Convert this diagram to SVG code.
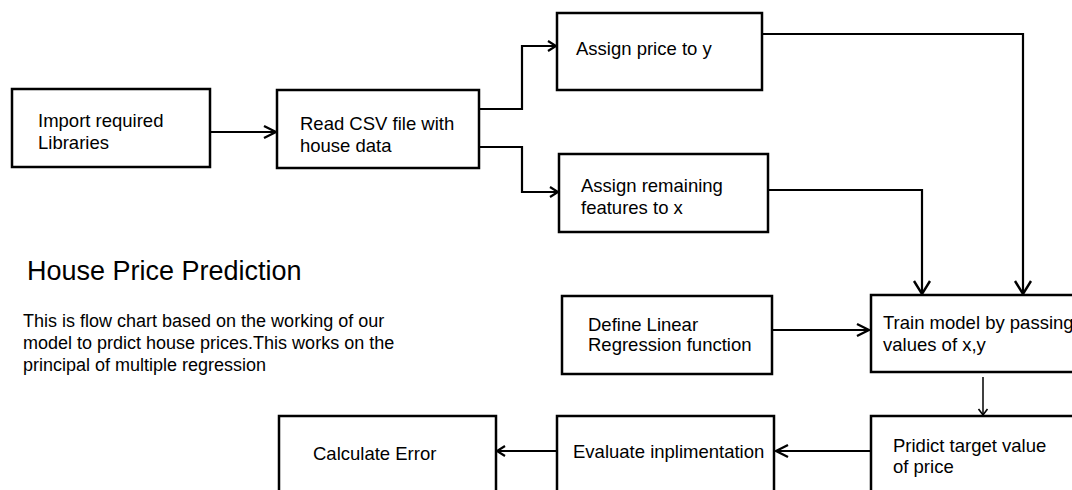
<svg xmlns="http://www.w3.org/2000/svg" width="1072" height="490" viewBox="0 0 1072 490">
  <style>
    .box { fill: #ffffff; stroke: #000000; stroke-width: 2.5; }
    .lbl { font-family: "Liberation Sans", Arial, Helvetica, sans-serif; font-size: 18.5px; fill: #000000; }
    .title { font-family: "Liberation Sans", Arial, Helvetica, sans-serif; font-size: 27px; fill: #000000; }
    .para { font-family: "Liberation Sans", Arial, Helvetica, sans-serif; font-size: 18px; fill: #000000; }
    .wire { fill: none; stroke: #000000; stroke-width: 2.2; }
    .thin { fill: none; stroke: #000000; stroke-width: 1.5; }
  </style>
  <defs>
    <marker id="head" markerUnits="userSpaceOnUse" markerWidth="16" markerHeight="16" viewBox="-14 -8 16 16" refX="0" refY="0" orient="auto">
      <path d="M-12,-6 L0,0 L-12,6" fill="none" stroke="#000" stroke-width="2.4"/>
    </marker>
    <marker id="headBig" markerUnits="userSpaceOnUse" markerWidth="18" markerHeight="20" viewBox="-15 -10 17 20" refX="0" refY="0" orient="auto">
      <path d="M-13,-8 L0,0 L-13,8" fill="none" stroke="#000" stroke-width="2.4"/>
    </marker>
    <marker id="headSmall" markerUnits="userSpaceOnUse" markerWidth="12" markerHeight="14" viewBox="-10 -7 12 14" refX="0" refY="0" orient="auto">
      <path d="M-8,-5 L0,0 L-8,5" fill="none" stroke="#000" stroke-width="2.2"/>
    </marker>
    <marker id="headTiny" markerUnits="userSpaceOnUse" markerWidth="10" markerHeight="12" viewBox="-8 -6 10 12" refX="0" refY="0" orient="auto">
      <path d="M-6,-4.5 L0,0 L-6,4.5" fill="none" stroke="#000" stroke-width="1.6"/>
    </marker>
  </defs>

  <rect width="1072" height="490" fill="#ffffff"/>

  <!-- caption -->
  <g id="caption">
    <text class="title" x="27" y="280">House Price Prediction</text>
    <text class="para" x="23" y="327">This is flow chart based on the working of our</text>
    <text class="para" x="23" y="349">model to prdict house prices.This works on the</text>
    <text class="para" x="23" y="371">principal of multiple regression</text>
  </g>

  <!-- connectors -->
  <g id="connectors">
    <path class="wire" d="M210,132 L276,132" marker-end="url(#head)"/>
    <path class="wire" d="M479,109 L522,109 L522,46 L556,46" marker-end="url(#headSmall)"/>
    <path class="wire" d="M479,147 L522,147 L522,192 L558,192" marker-end="url(#headSmall)"/>
    <path class="wire" d="M762,34 L1023,34 L1023,294" marker-end="url(#headBig)"/>
    <path class="wire" d="M768,190 L922,190 L922,294" marker-end="url(#headBig)"/>
    <path class="wire" d="M772,330 L869,330" marker-end="url(#head)"/>
    <path class="thin" d="M983,377 L983,415" marker-end="url(#headTiny)"/>
    <path class="wire" d="M870,451 L776,451" marker-end="url(#head)"/>
    <path class="wire" d="M557,451 L497,451" marker-end="url(#headSmall)"/>
  </g>

  <g id="import">
    <rect class="box" x="12" y="89" width="198" height="78"/>
    <text class="lbl" x="38" y="127">Import required</text>
    <text class="lbl" x="38" y="149">Libraries</text>
  </g>

  <g id="read-csv">
    <rect class="box" x="277" y="90" width="202" height="78"/>
    <text class="lbl" x="300" y="130">Read CSV file with</text>
    <text class="lbl" x="300" y="152">house data</text>
  </g>

  <g id="assign-y">
    <rect class="box" x="557" y="13" width="205" height="77"/>
    <text class="lbl" x="576" y="55">Assign price to y</text>
  </g>

  <g id="assign-x">
    <rect class="box" x="559" y="154" width="209" height="78"/>
    <text class="lbl" x="581" y="192">Assign remaining</text>
    <text class="lbl" x="581" y="214">features to x</text>
  </g>

  <g id="define-lr">
    <rect class="box" x="562" y="296" width="210" height="78"/>
    <text class="lbl" x="588" y="331">Define Linear</text>
    <text class="lbl" x="588" y="351">Regression function</text>
  </g>

  <g id="train">
    <rect class="box" x="871" y="295" width="220" height="77"/>
    <text class="lbl" x="883" y="329">Train model by passing</text>
    <text class="lbl" x="883" y="351">values of x,y</text>
  </g>

  <g id="predict">
    <rect class="box" x="871" y="416" width="220" height="90"/>
    <text class="lbl" x="893" y="452">Pridict target value</text>
    <text class="lbl" x="893" y="473">of price</text>
  </g>

  <g id="evaluate">
    <rect class="box" x="557" y="416" width="217" height="90"/>
    <text class="lbl" x="573" y="458">Evaluate inplimentation</text>
  </g>

  <g id="calc-error">
    <rect class="box" x="279" y="416" width="217" height="90"/>
    <text class="lbl" x="313" y="460">Calculate Error</text>
  </g>
</svg>
